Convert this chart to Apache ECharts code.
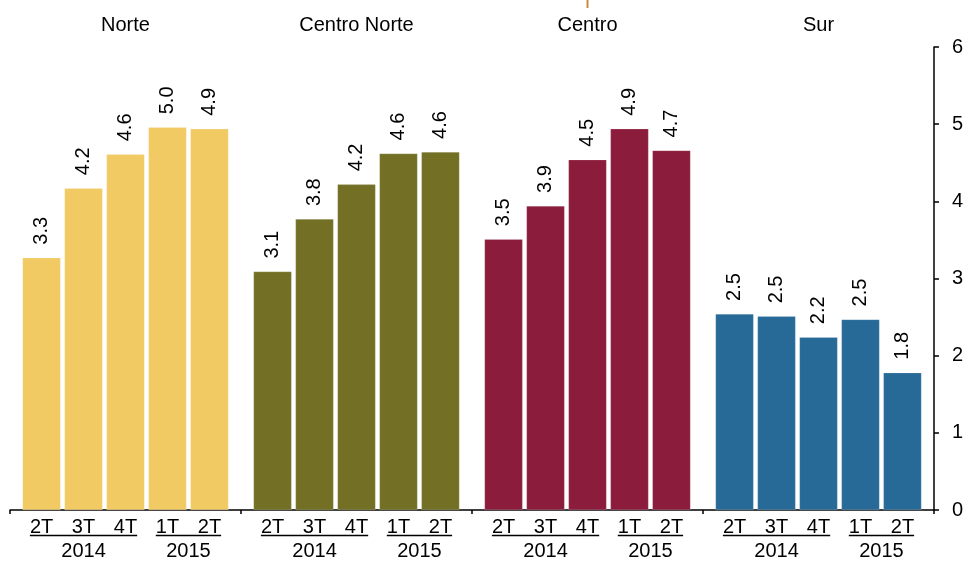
<!DOCTYPE html>
<html>
<head>
<meta charset="utf-8">
<script src="https://cdn.jsdelivr.net/npm/echarts@6/dist/echarts.min.js"></script>
<style>
html,body{margin:0;padding:0;background:#fff;}
#chart{width:970px;height:574px;}
</style>
</head>
<body>
<div id="chart"></div>
<script>
// ---- Data ----
const regions = ['Norte', 'Centro Norte', 'Centro', 'Sur'];
const quarters = ['2T', '3T', '4T', '1T', '2T'];
const yearGroups = [['2014', 0, 2], ['2015', 3, 4]]; // label, first quarter index, last quarter index
const norte = [3.27, 4.17, 4.61, 4.96, 4.94];
const centroNorte = [3.09, 3.77, 4.22, 4.62, 4.64];
const centro = [3.51, 3.94, 4.54, 4.94, 4.66];
const sur = [2.54, 2.51, 2.24, 2.47, 1.78];

const regionValues = [norte, centroNorte, centro, sur];
const regionColors = ['#F1CA64', '#737026', '#8C1C3C', '#276A98'];
const FONT = 'Liberation Sans, Arial, sans-serif';
const FS = 20;

const series = quarters.map((q, j) => ({
  type: 'bar',
  name: q + '_' + j,
  xAxisIndex: 0,
  yAxisIndex: 0,
  barGap: '10%',
  barCategoryGap: '10.8%',
  data: regionValues.map((vals, i) => ({
    value: vals[j],
    itemStyle: { color: regionColors[i] }
  })),
  itemStyle: { borderColor: 'rgba(255,255,255,0.35)', borderWidth: 0.5 },
  label: {
    show: true,
    position: 'top',
    rotate: 90,
    align: 'left',
    verticalAlign: 'middle',
    distance: 13,
    color: '#000',
    fontFamily: FONT,
    fontSize: FS,
    formatter: p => (Math.round(p.value * 10) / 10).toFixed(1)
  },
  animation: false
}));

const chart = echarts.init(document.getElementById('chart'));
chart.setOption({
  animation: false,
  grid: { left: 10, right: 36, top: 47, bottom: 64 },
  xAxis: [
    {
      type: 'category',
      data: regions,
      position: 'bottom',
      axisLine: { lineStyle: { color: '#000', width: 1.5 } },
      axisTick: { show: true, length: 4, lineStyle: { color: '#000', width: 1.5 } },
      axisLabel: { show: false }
    },
    {
      type: 'category',
      data: regions,
      position: 'top',
      axisLine: { show: false },
      axisTick: { show: false },
      axisLabel: { color: '#000', fontFamily: FONT, fontSize: FS, margin: 12 }
    }
  ],
  yAxis: {
    type: 'value',
    position: 'right',
    min: 0,
    max: 6,
    interval: 1,
    axisLine: { show: true, lineStyle: { color: '#000', width: 1.5 } },
    axisTick: { show: true, inside: false, length: 5, lineStyle: { color: '#000', width: 1.5 } },
    axisLabel: { color: '#000', fontFamily: FONT, fontSize: FS, margin: 18 },
    splitLine: { show: false }
  },
  series: series
});

// ---- Bottom multi-level labels, positioned from the bar layouts ----
const measureCtx = document.createElement('canvas').getContext('2d');
measureCtx.font = FS + 'px ' + FONT;
const graphics = [];
const model = chart.getModel();
const axisY = chart.convertToPixel({ yAxisIndex: 0 }, 0);
const qTop = axisY + 7;
const yearTop = axisY + 31;
regions.forEach((r, i) => {
  const centers = quarters.map((q, j) => {
    const lay = model.getSeriesByIndex(j).getData().getItemLayout(i);
    return lay.x + lay.width / 2;
  });
  quarters.forEach((q, j) => {
    graphics.push({
      type: 'text', silent: true,
      style: { text: q, x: centers[j], y: qTop, align: 'center', verticalAlign: 'top',
               font: FS + 'px ' + FONT, fill: '#000' }
    });
  });
  yearGroups.forEach(([label, a, b]) => {
    const wa = measureCtx.measureText(quarters[a]).width;
    const wb = measureCtx.measureText(quarters[b]).width;
    const x1 = centers[a] - wa / 2;
    const x2 = centers[b] + wb / 2;
    const uy = qTop + FS * 0.92;
    graphics.push({
      type: 'line', silent: true,
      shape: { x1: x1, y1: uy, x2: x2, y2: uy },
      style: { stroke: '#000', lineWidth: 1.5 }
    });
    graphics.push({
      type: 'text', silent: true,
      style: { text: label, x: (centers[a] + centers[b]) / 2, y: yearTop, align: 'center', verticalAlign: 'top',
               font: FS + 'px ' + FONT, fill: '#000' }
    });
  });
});
// small clipped orange title fragment seen at the very top of the original
const topX = chart.convertToPixel({ xAxisIndex: 0 }, 'Centro');
graphics.push({
  type: 'line', silent: true,
  shape: { x1: topX, y1: 0, x2: topX, y2: 8 },
  style: { stroke: '#C98A3E', lineWidth: 2 }
});
chart.setOption({ graphic: graphics });
</script>
</body>
</html>
